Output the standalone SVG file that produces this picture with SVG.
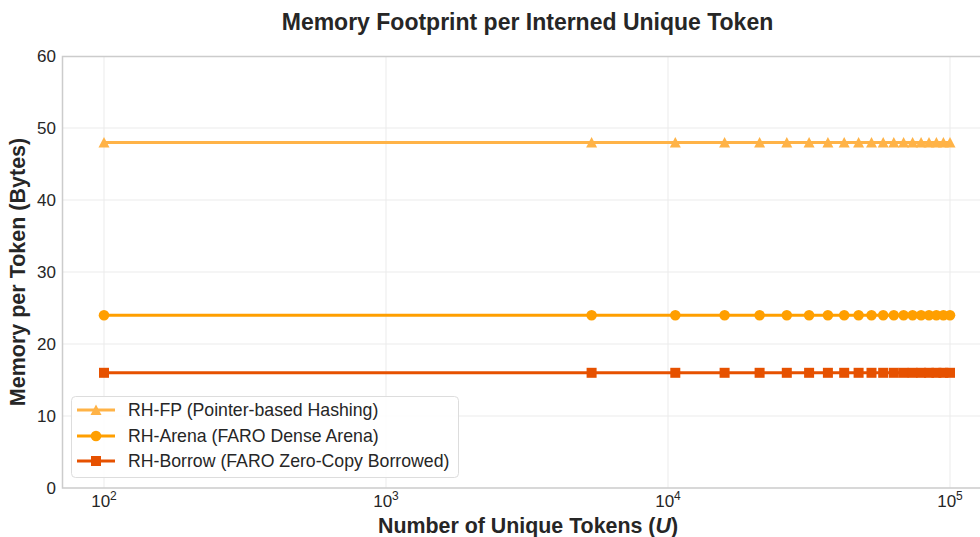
<svg xmlns="http://www.w3.org/2000/svg" xmlns:xlink="http://www.w3.org/1999/xlink" width="980" height="537" viewBox="0 0 980 537">
<style>
text{font-family:"Liberation Sans","DejaVu Sans",sans-serif;fill:#262626}
.grid{stroke:#ebebeb;stroke-width:1}
.tick{font-size:17px}
.nar{font-family:"Liberation Sans Narrow","Liberation Sans",sans-serif}
.fp{stroke:#FFB347;fill:none;stroke-width:3}
.ar{stroke:#FF9F00;fill:none;stroke-width:3}
.bo{stroke:#E65100;fill:none;stroke-width:3}
.leg{font-size:17.7px}
</style>
<defs>
<polygon id="tri" points="-5.5,5 5.5,5 0,-5.5" fill="#FFB347"/>
<circle id="cir" r="5.3" fill="#FF9F00"/>
<rect id="sq" x="-5" y="-5" width="10" height="10" fill="#E65100"/>
</defs>
<rect width="980" height="537" fill="#fff"/>
<g id="axes">
<g id="gridlines">
<line class="grid" x1="104" y1="56" x2="104" y2="488"/>
<line class="grid" x1="386" y1="56" x2="386" y2="488"/>
<line class="grid" x1="668" y1="56" x2="668" y2="488"/>
<line class="grid" x1="950" y1="56" x2="950" y2="488"/>
<line class="grid" x1="62" y1="416" x2="980" y2="416"/>
<line class="grid" x1="62" y1="344" x2="980" y2="344"/>
<line class="grid" x1="62" y1="272" x2="980" y2="272"/>
<line class="grid" x1="62" y1="200" x2="980" y2="200"/>
<line class="grid" x1="62" y1="128" x2="980" y2="128"/>
</g>
<path d="M980,56.5 H62.5 V488 H980" fill="none" stroke="#cccccc" stroke-width="1.5"/>
<g id="yticks" class="tick" text-anchor="end">
<text x="56" y="494">0</text>
<text x="56" y="422">10</text>
<text x="56" y="350">20</text>
<text x="56" y="278">30</text>
<text x="56" y="206">40</text>
<text x="56" y="134">50</text>
<text x="56" y="62">60</text>
</g>
<g id="xticks" class="tick nar" text-anchor="middle">
<text x="104" y="507">10<tspan dy="-7" font-size="12">2</tspan></text>
<text x="386" y="507">10<tspan dy="-7" font-size="12">3</tspan></text>
<text x="668" y="507">10<tspan dy="-7" font-size="12">4</tspan></text>
<text x="950" y="507">10<tspan dy="-7" font-size="12">5</tspan></text>
</g>
</g>
<text x="527.5" y="30" text-anchor="middle" font-size="23" font-weight="bold">Memory Footprint per Interned Unique Token</text>
<text x="528" y="533" text-anchor="middle" font-size="22" font-weight="bold" class="nar" textLength="300" lengthAdjust="spacingAndGlyphs">Number of Unique Tokens (<tspan font-style="italic">U</tspan>)</text>
<text transform="translate(25,272) rotate(-90)" text-anchor="middle" font-size="21.5" font-weight="bold">Memory per Token (Bytes)</text>
<g id="connectors">
<line class="fp" x1="104" y1="142.4" x2="950" y2="142.4"/>
<line class="ar" x1="104" y1="315.2" x2="950" y2="315.2"/>
<line class="bo" x1="104" y1="372.8" x2="950" y2="372.8"/>
</g>
<g id="series-fp">
<use xlink:href="#tri" x="104" y="142.4"/><use xlink:href="#tri" x="591.6" y="142.4"/><use xlink:href="#tri" x="675.3" y="142.4"/><use xlink:href="#tri" x="724.6" y="142.4"/><use xlink:href="#tri" x="759.6" y="142.4"/><use xlink:href="#tri" x="786.8" y="142.4"/><use xlink:href="#tri" x="809.1" y="142.4"/><use xlink:href="#tri" x="827.9" y="142.4"/><use xlink:href="#tri" x="844.2" y="142.4"/><use xlink:href="#tri" x="858.6" y="142.4"/><use xlink:href="#tri" x="871.5" y="142.4"/><use xlink:href="#tri" x="883.2" y="142.4"/><use xlink:href="#tri" x="893.8" y="142.4"/><use xlink:href="#tri" x="903.6" y="142.4"/><use xlink:href="#tri" x="912.6" y="142.4"/><use xlink:href="#tri" x="921.1" y="142.4"/><use xlink:href="#tri" x="929" y="142.4"/><use xlink:href="#tri" x="936.4" y="142.4"/><use xlink:href="#tri" x="943.4" y="142.4"/><use xlink:href="#tri" x="950" y="142.4"/>
</g>
<g id="series-arena">
<use xlink:href="#cir" x="104" y="315.2"/><use xlink:href="#cir" x="591.6" y="315.2"/><use xlink:href="#cir" x="675.3" y="315.2"/><use xlink:href="#cir" x="724.6" y="315.2"/><use xlink:href="#cir" x="759.6" y="315.2"/><use xlink:href="#cir" x="786.8" y="315.2"/><use xlink:href="#cir" x="809.1" y="315.2"/><use xlink:href="#cir" x="827.9" y="315.2"/><use xlink:href="#cir" x="844.2" y="315.2"/><use xlink:href="#cir" x="858.6" y="315.2"/><use xlink:href="#cir" x="871.5" y="315.2"/><use xlink:href="#cir" x="883.2" y="315.2"/><use xlink:href="#cir" x="893.8" y="315.2"/><use xlink:href="#cir" x="903.6" y="315.2"/><use xlink:href="#cir" x="912.6" y="315.2"/><use xlink:href="#cir" x="921.1" y="315.2"/><use xlink:href="#cir" x="929" y="315.2"/><use xlink:href="#cir" x="936.4" y="315.2"/><use xlink:href="#cir" x="943.4" y="315.2"/><use xlink:href="#cir" x="950" y="315.2"/>
</g>
<g id="series-borrow">
<use xlink:href="#sq" x="104" y="372.8"/><use xlink:href="#sq" x="591.6" y="372.8"/><use xlink:href="#sq" x="675.3" y="372.8"/><use xlink:href="#sq" x="724.6" y="372.8"/><use xlink:href="#sq" x="759.6" y="372.8"/><use xlink:href="#sq" x="786.8" y="372.8"/><use xlink:href="#sq" x="809.1" y="372.8"/><use xlink:href="#sq" x="827.9" y="372.8"/><use xlink:href="#sq" x="844.2" y="372.8"/><use xlink:href="#sq" x="858.6" y="372.8"/><use xlink:href="#sq" x="871.5" y="372.8"/><use xlink:href="#sq" x="883.2" y="372.8"/><use xlink:href="#sq" x="893.8" y="372.8"/><use xlink:href="#sq" x="903.6" y="372.8"/><use xlink:href="#sq" x="912.6" y="372.8"/><use xlink:href="#sq" x="921.1" y="372.8"/><use xlink:href="#sq" x="929" y="372.8"/><use xlink:href="#sq" x="936.4" y="372.8"/><use xlink:href="#sq" x="943.4" y="372.8"/><use xlink:href="#sq" x="950" y="372.8"/>
</g>
<g id="legend">
<rect x="71.5" y="396.5" width="387" height="81" rx="4" fill="#fff" fill-opacity="0.85" stroke="#dddddd" stroke-width="1"/>
<line class="fp" x1="77" y1="410" x2="115" y2="410"/><use xlink:href="#tri" x="96" y="410"/>
<text class="leg" x="128" y="416">RH-FP (Pointer-based Hashing)</text>
<line class="ar" x1="77" y1="436" x2="115" y2="436"/><use xlink:href="#cir" x="96" y="436"/>
<text class="leg" x="128" y="442">RH-Arena (FARO Dense Arena)</text>
<line class="bo" x1="77" y1="461" x2="115" y2="461"/><use xlink:href="#sq" x="96" y="461"/>
<text class="leg" x="128" y="467">RH-Borrow (FARO Zero-Copy Borrowed)</text>
</g>
</svg>
